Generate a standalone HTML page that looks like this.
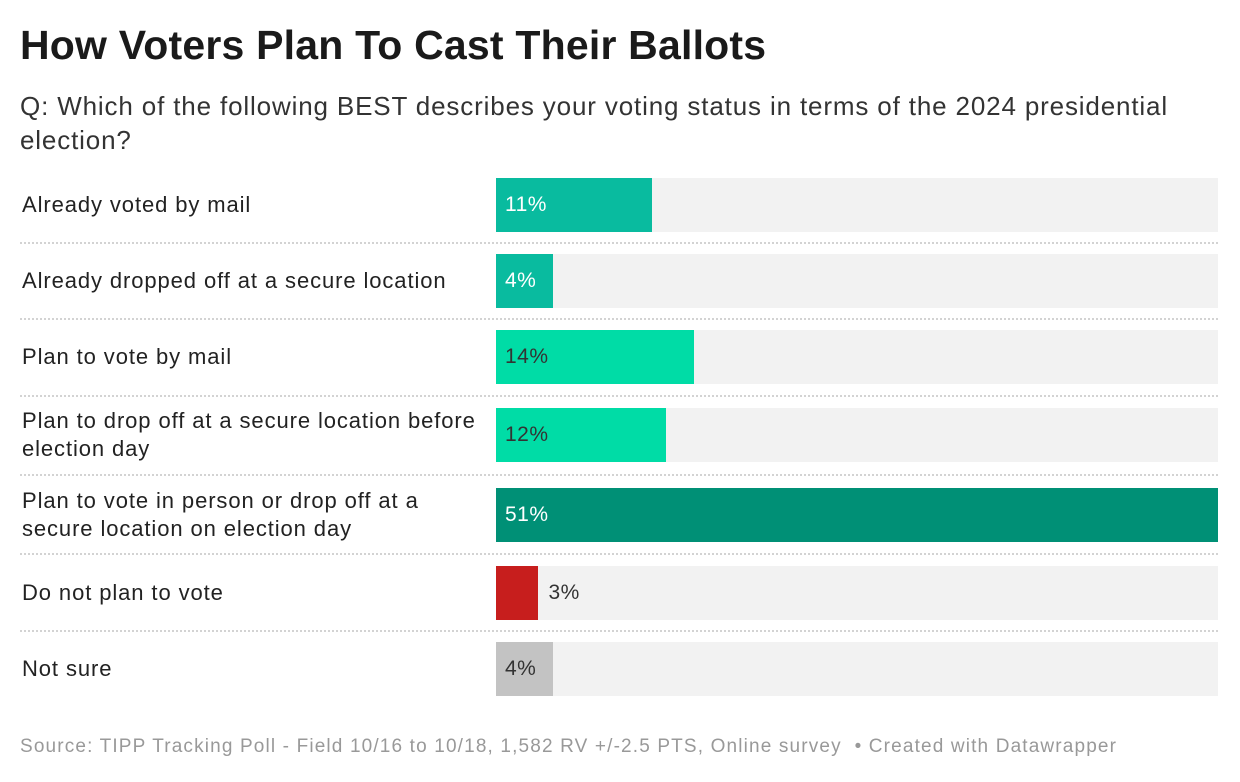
<!DOCTYPE html>
<html><head><meta charset="utf-8"><style>
body{margin:0;width:1240px;height:782px;background:#fff;font-family:"Liberation Sans",sans-serif;position:relative;overflow:hidden;color:#222}
#title{position:absolute;left:20px;top:22px;font-size:41px;font-weight:bold;color:#1a1a1a;letter-spacing:0.2px;white-space:nowrap}
#sub{position:absolute;left:20px;top:89px;width:1200px;font-size:26px;letter-spacing:0.85px;line-height:34px;color:#333;white-space:nowrap}
.lbl{position:absolute;left:22px;font-size:22px;letter-spacing:0.9px;line-height:28px;color:#222;width:480px;white-space:nowrap}
.track{position:absolute;left:496px;width:722px;height:54px;background:#f2f2f2}
.bar{position:absolute;left:496px;height:54px}
.val{position:absolute;font-size:21px;letter-spacing:0.5px;line-height:54px}
.sep{position:absolute;left:20px;width:1198px;border-top:2px dotted #d3d3d3}
#src{position:absolute;left:20px;top:736px;font-size:19px;letter-spacing:1.15px;color:#999;white-space:nowrap}
</style></head><body>
<div id="title">How Voters Plan To Cast Their Ballots</div>
<div id="sub">Q: Which of the following BEST describes your voting status in terms of the 2024 presidential<br>election?</div>
<div id="chart"></div>
<div id="src">Source: TIPP Tracking Poll - Field 10/16 to 10/18, 1,582 RV +/-2.5 PTS, Online survey &nbsp;• Created with Datawrapper</div>
<script>
const categories=["Already voted by mail","Already dropped off at a secure location","Plan to vote by mail","Plan to drop off at a secure location before|election day","Plan to vote in person or drop off at a|secure location on election day","Do not plan to vote","Not sure"];
const values=[11,4,14,12,51,3,4];
const colors=["#09bb9f","#09bb9f","#00dca6","#00dca6","#009076","#c71e1d","#c3c3c3"];
const textColors=["#fff","#fff","#333","#333","#fff","#333","#333"];
const rowTops=[178,254,330,408,488,566,642];
const maxV=51, W=722, X0=496;
const x=v=>v/maxV*W;
const c=document.getElementById('chart');
categories.forEach((cat,i)=>{
  const t=rowTops[i];
  const parts=cat.split('|');
  const lbl=document.createElement('div');lbl.className='lbl';
  
  
  parts.forEach((p,j)=>{if(j)lbl.appendChild(document.createElement('br'));lbl.appendChild(document.createTextNode(p));});
  c.appendChild(lbl);
  lbl.style.top=(t+27-parts.length*14)+'px';
  const tr=document.createElement('div');tr.className='track';tr.style.top=t+'px';
  
  
  c.appendChild(tr);
  const b=document.createElement('div');b.className='bar';b.style.top=t+'px';
  b.style.width=x(values[i])+'px';b.style.background=colors[i];
  
  
  c.appendChild(b);
  const v=document.createElement('div');v.className='val';v.style.top=t+'px';
  v.textContent=values[i]+'%';v.style.color=textColors[i];
  v.style.left=(x(values[i])<50?X0+x(values[i])+10:X0+9)+'px';
  
  
  c.appendChild(v);
  if(i<categories.length-1){
    const s=document.createElement('div');s.className='sep';
    s.style.top=Math.round((t+54+rowTops[i+1])/2-1)+'px';
    
    
    c.appendChild(s);
  }
});
</script>
</body></html>
